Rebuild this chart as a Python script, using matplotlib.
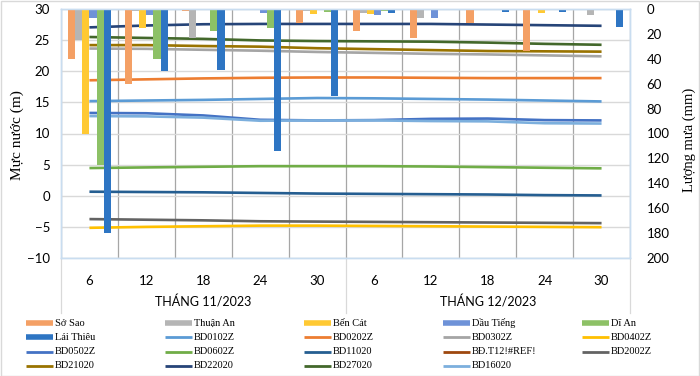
import matplotlib
matplotlib.use('Agg')
import matplotlib.pyplot as plt
import matplotlib.transforms as mtransforms
from matplotlib.lines import Line2D
from matplotlib.patches import Rectangle
import numpy as np

# x categories (day of month), two months
days = ['6', '12', '18', '24', '30', '6', '12', '18', '24', '30']
months = ['THÁNG 11/2023', 'THÁNG 12/2023']

# rainfall, mm (right axis, inverted)
so_sao = [40, 60, 1.5, 0.7, 11.3, 17.5, 23, 11.5, 33.5, 0]
thuan_an = [25, 2, 23.5, 0, 2, 3.2, 7.3, 0, 0, 4.6]
ben_cat = [100, 15, 0.6, 0.5, 4, 4, 0, 0.6, 3.5, 0]
dau_tieng = [7.5, 4.6, 0.5, 3.2, 0.6, 4.6, 7.3, 0, 0, 0]
di_an = [125, 40, 18, 15.6, 2.1, 2, 0, 0.6, 0, 0]
lai_thieu = [180, 50, 49, 114, 70, 3.2, 0, 2.2, 2.2, 14.8]

# groundwater level, m (left axis)
bd0102z = [15.2, 15.3, 15.4, 15.55, 15.7, 15.65, 15.55, 15.45, 15.3, 15.15]
bd0202z = [18.55, 18.7, 18.85, 18.95, 19.0, 19.0, 18.95, 18.9, 18.9, 18.9]
bd0302z = [23.65, 23.6, 23.45, 23.3, 23.1, 22.95, 22.8, 22.7, 22.55, 22.4]
bd0402z = [-5.15, -5.0, -4.9, -4.8, -4.8, -4.85, -4.9, -4.95, -5.0, -5.05]
bd0502z = [13.3, 13.25, 12.9, 12.2, 12.1, 12.15, 12.35, 12.4, 12.15, 12.1]
bd0602z = [4.45, 4.55, 4.65, 4.75, 4.75, 4.75, 4.7, 4.6, 4.5, 4.4]
bd11020 = [0.65, 0.6, 0.55, 0.45, 0.35, 0.3, 0.25, 0.2, 0.1, 0.05]
bd_t12_ref = [np.nan] * 10
bd2002z = [-3.75, -3.85, -3.95, -4.1, -4.15, -4.2, -4.25, -4.3, -4.35, -4.4]
bd21020 = [24.2, 24.2, 24.05, 23.95, 23.7, 23.55, 23.4, 23.25, 23.2, 23.15]
bd22020 = [27.05, 27.35, 27.55, 27.6, 27.6, 27.6, 27.6, 27.5, 27.4, 27.3]
bd27020 = [25.5, 25.35, 25.2, 24.95, 24.85, 24.8, 24.75, 24.6, 24.4, 24.25]
bd16020 = [12.8, 12.75, 12.55, 12.05, 12.1, 12.1, 12.0, 11.95, 11.65, 11.6]

rain = [('Sở Sao', so_sao, '#F4A065'),
        ('Thuận An', thuan_an, '#B5B5B5'),
        ('Bến Cát', ben_cat, '#FFC933'),
        ('Dầu Tiếng', dau_tieng, '#6E92D8'),
        ('Dĩ An', di_an, '#8DC166'),
        ('Lái Thiêu', lai_thieu, '#2E75C3')]

wells = [('BD0102Z', bd0102z, '#5B9BD5'),
         ('BD0202Z', bd0202z, '#ED7D31'),
         ('BD0302Z', bd0302z, '#A5A5A5'),
         ('BD0402Z', bd0402z, '#FFC000'),
         ('BD0502Z', bd0502z, '#4472C4'),
         ('BD0602Z', bd0602z, '#70AD47'),
         ('BD11020', bd11020, '#255E91'),
         ('BĐ.T12!#REF!', bd_t12_ref, '#9E480E'),
         ('BD2002Z', bd2002z, '#636363'),
         ('BD21020', bd21020, '#997300'),
         ('BD22020', bd22020, '#264478'),
         ('BD27020', bd27020, '#43682B'),
         ('BD16020', bd16020, '#7CAFDD')]

sans = 'Lato'
serif = 'Liberation Serif'
W, H = 700, 376

fig = plt.figure(figsize=(7, 3.76), dpi=100)
ax = fig.add_axes([61 / W, 1 - 258 / H, (630 - 61) / W, (258 - 9) / H])
ax2 = ax.twinx()

x = np.arange(len(days))
for name, vals, col in wells:
    ax.plot(x, vals, color=col, lw=1.9, solid_capstyle='butt')

w = 0.125
for i, (name, vals, col) in enumerate(rain):
    ax2.bar(x + (i - 2.5) * w, vals, width=w, color=col, linewidth=0)

ax.set_ylim(-10, 30)
ax.set_yticks(range(-10, 31, 5))
ax.set_xticks(x)
ax.set_xticklabels(days)
ax.set_xticks(np.arange(-0.5, len(days), 1), minor=True)
ax.grid(axis='y', color='#D9D9D9', lw=1)
ax.grid(axis='x', which='minor', color='#A6A6A6', lw=0.9)
ax.set_axisbelow(True)
ax.tick_params(which='both', length=0, labelsize=9.5)
ax.tick_params(axis='x', pad=12)
ax.tick_params(axis='y', pad=8)
for lab in ax.get_xticklabels() + ax.get_yticklabels():
    lab.set_family(sans)

ax2.set_ylim(200, 0)
ax2.set_yticks(range(0, 201, 20))
ax2.tick_params(length=0, labelsize=9.5, pad=12)
for lab in ax2.get_yticklabels():
    lab.set_family(sans)

for a in (ax, ax2):
    for s in a.spines.values():
        s.set_color('#C9DDF0')
        s.set_linewidth(1)

# month group labels and separators below the axis
trans = mtransforms.blended_transform_factory(ax.transData, ax.transAxes)
for xs in [-0.5, 4.5, 9.5]:
    ax.add_line(Line2D([xs, xs], [0, -0.22], transform=trans, color='#D9D9D9',
                       lw=0.9, clip_on=False))
ax.text(2, -0.177, months[0], transform=trans, ha='center', va='center',
        family=sans, size=9)
ax.text(7, -0.177, months[1], transform=trans, ha='center', va='center',
        family=sans, size=9)
ax.set_xlim(-0.5, len(days) - 0.5)

fig.text(17 / W, 1 - 135 / H, 'Mực nước (m)', rotation=90, ha='center',
         va='center', family=serif, size=11)
fig.text(689 / W, 1 - 140 / H, 'Lượng mưa (mm)', rotation=90, ha='center',
         va='center', family=serif, size=10.5)

# legend, laid out row by row like the original
items = [(n, c, 4) for n, v, c in rain] + [(n, c, 2) for n, v, c in wells]
for i, (name, col, lw) in enumerate(items):
    r, c = divmod(i, 5)
    y = 1 - (323 + 14.3 * r) / H
    x0 = (26 + 139 * c) / W
    fig.add_artist(Line2D([x0, x0 + 27 / W], [y, y], transform=fig.transFigure,
                          color=col, lw=lw, solid_capstyle='butt'))
    fig.text(x0 + 29 / W, y, name, ha='left', va='center', family=serif, size=7.5)

fig.add_artist(Rectangle((0.001, 0.001), 0.997, 0.997, transform=fig.transFigure,
                         fill=False, edgecolor='#D9D9D9', lw=1))

fig.savefig('out.png', dpi=100)
